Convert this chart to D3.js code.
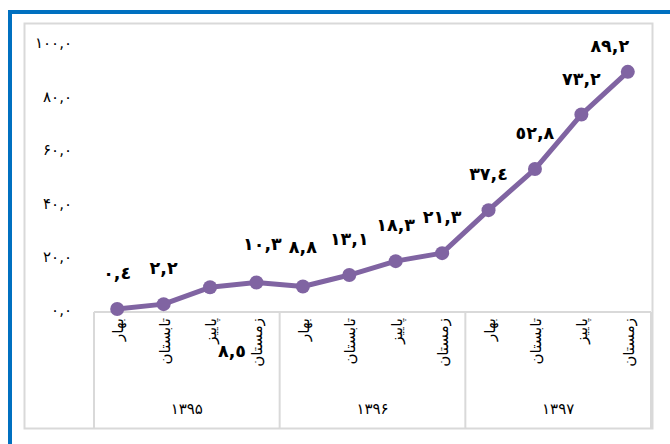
<!DOCTYPE html>
<meta charset="utf-8">
<style>
body { margin: 0; background: #fff; }
text { font-family: "DejaVu Sans", sans-serif; fill: #000; }
</style>
<body>
<script src="https://d3js.org/d3.v7.min.js"></script>
<script>
// data
var seasons = ["بهار", "تابستان", "پاییز", "زمستان"];
var years = ["۱۳۹۵", "۱۳۹۶", "۱۳۹۷"];
var values = [0.4, 2.2, 8.5, 10.3, 8.8, 13.1, 18.3, 21.3, 37.4, 52.8, 73.2, 89.2];
var yTicks = [0, 20, 40, 60, 80, 100];

var W = 670, H = 444;
var svg = d3.select("body").append("svg")
    .attr("width", W)
    .attr("height", H);

// outer blue frame and chart border
svg.append("rect").attr("x", 10).attr("y", 12).attr("width", 700).attr("height", 500)
    .attr("fill", "none").attr("stroke", "#0070C0").attr("stroke-width", 4);
svg.append("rect").attr("x", 24.5).attr("y", 23.5).attr("width", 628).attr("height", 405)
    .attr("fill", "none").attr("stroke", "#D9D9D9").attr("stroke-width", 2);

var cats = d3.range(values.length);
var x = d3.scaleBand().domain(cats).range([94, 651]).padding(0);
var y = d3.scaleLinear().domain([0, 100]).range([310, 43]);
var cx = function(i) { return x(i) + x.bandwidth() / 2; };

var fa = "۰۱۲۳۴۵۶۷۸۹", ar = "٠١٢٣٤٥٦٧٨٩";
function digits(s, set) { return String(s).replace(/[0-9]/g, function(c) { return set[+c]; }); }
function fmt(v, set) { return digits(v.toFixed(1), set).replace(".", ","); }

// y axis labels (no axis line)
var yAxis = svg.append("g").attr("transform", "translate(72,0)")
    .call(d3.axisLeft(y).tickValues(yTicks).tickSize(0).tickPadding(0)
      .tickFormat(function(d) { return fmt(d, fa); }));
yAxis.select(".domain").remove();
yAxis.selectAll("text").style("font-family", "DejaVu Sans").style("font-size", "15px").attr("fill", "#000");

// category box
var cat = svg.append("g").attr("stroke", "#D9D9D9").attr("stroke-width", 2).attr("fill", "none");
cat.append("line").attr("x1", x(0)).attr("x2", x(11) + x.bandwidth()).attr("y1", 312).attr("y2", 312);
[0, 4, 8, 12].forEach(function(i) {
  var xx = i < 12 ? x(i) : x(11) + x.bandwidth();
  cat.append("line").attr("x1", xx).attr("x2", xx).attr("y1", 312).attr("y2", 429);
});

// season labels
cats.forEach(function(i) {
  svg.append("text")
    .attr("transform", "translate(" + (cx(i) + 6) + ",318) rotate(-90)")
    .attr("text-anchor", "end")
    .style("font-size", "15px")
    .text(seasons[i % 4]);
});
// year labels
years.forEach(function(yr, g) {
  svg.append("text")
    .attr("x", (x(g * 4) + x(g * 4 + 3) + x.bandwidth()) / 2)
    .attr("y", 414)
    .attr("text-anchor", "middle")
    .style("font-size", "15px")
    .text(yr);
});

// line and markers
var line = d3.line().x(function(d, i) { return cx(i); }).y(function(d) { return y(d); });
svg.append("path").datum(values)
    .attr("d", line).attr("fill", "none")
    .attr("stroke", "#8064A2").attr("stroke-width", 5).attr("stroke-linejoin", "round");
svg.selectAll("circle.pt").data(values).enter().append("circle")
    .attr("cx", function(d, i) { return cx(i); })
    .attr("cy", function(d) { return y(d); })
    .attr("r", 7).attr("fill", "#8064A2");

// data labels, with a few moved like in the original
var nudge = { 2: [22, 100], 3: [6, -2], 4: [0, -4], 11: [-18, 10] };
svg.selectAll("text.lbl").data(values).enter().append("text")
    .attr("class", "lbl")
    .attr("x", function(d, i) { return cx(i) + (nudge[i] ? nudge[i][0] : 0); })
    .attr("y", function(d, i) { return y(d) - 30 + (nudge[i] ? nudge[i][1] : 0); })
    .attr("text-anchor", "middle")
    .style("font-size", "17.5px").style("font-weight", "bold")
    .text(function(d) { return fmt(d, ar); });
</script>
</body>
